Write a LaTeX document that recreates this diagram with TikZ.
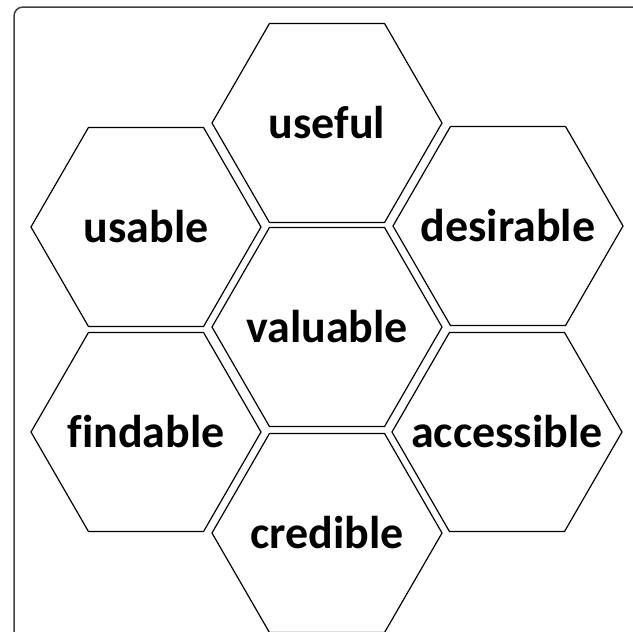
\documentclass[tikz,border=0pt]{standalone}
\usepackage{fontspec}
\setmainfont{Carlito}[Ligatures=CommonOff]
\usetikzlibrary{shapes.geometric}
\begin{document}
\begin{tikzpicture}[x=1pt,y=-1pt,
  hexa/.style={regular polygon, regular polygon sides=6, minimum size=230pt, inner sep=0pt, draw=black, line width=1.2pt},
  word/.style={font=\fontsize{46}{50}\selectfont\bfseries, inner sep=0pt},
  frame/.style={draw=black!75, line width=1.5pt, rounded corners=9pt}]
\useasboundingbox (0,0) rectangle (633,632);
\clip (0,0) rectangle (633,632);
\draw[frame] (14,7) rectangle (645,645);
\node[hexa] (huseful) at (327,123) {};
\node[hexa] (husable) at (146,227) {};
\node[hexa] (hdesirable) at (508,226) {};
\node[hexa] (hvaluable) at (327,327) {};
\node[hexa] (hfindable) at (146,432) {};
\node[hexa] (haccessible) at (507,432) {};
\node[hexa] (hcredible) at (327,533) {};
\node[word] (tuseful) at (huseful) {useful};
\node[word] (tusable) at (husable) {usable};
\node[word] (tdesirable) at (hdesirable) {desirable};
\node[word] (tvaluable) at (hvaluable) {valuable};
\node[word] (tfindable) at (hfindable) {findable};
\node[word] (taccessible) at (haccessible) {accessible};
\node[word] (tcredible) at (hcredible) {credible};
\end{tikzpicture}
\end{document}
